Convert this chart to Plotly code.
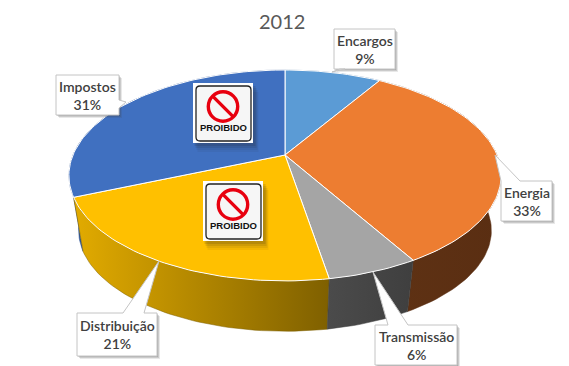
import math
import plotly.graph_objects as go

title = "2012"
categories = ["Encargos", "Energia", "Transmissão", "Distribuição", "Impostos"]
values = [8.7, 32.9, 5.7, 21.4, 31.3]

face_colors = ["#5B9BD5", "#ED7D31", "#A5A5A5", "#FFC000", "#4070C0"]
side_scales = [
    ["#3a6a98", "#3a6a98"],
    ["#5f3214", "#5a2e12"],
    ["#4b4b4b", "#3f3f3f"],
    ["#e2ab00", "#7f6000"],
    ["#2f5597", "#2f5597"],
]
# callout: box (x0, y0, x1, y1), pointer (b0x, b0y, tipx, tipy, b1x, b1y) in page pixels
callouts = [
    ((334, 29, 395, 69), (345, 69, 332, 72, 340, 69)),
    ((501, 181, 552, 221), (501, 181, 495, 155, 520, 181)),
    ((375, 325, 457, 365), (388, 325, 373, 272, 408, 325)),
    ((77, 313, 157, 356), (123, 313, 159, 261, 144, 313)),
    ((56, 75, 119, 115), (119, 100, 126, 102, 119, 108)),
]
signs = [(193, 83), (203, 181)]

# perspective projection of the unit disc
CX, CY, A, B, K = 285, 155, 212, 101.5, -0.194
DEPTH_DY, SHRINK = 56, 0.955


def rim(frac, lower=False):
    t = 2 * math.pi * frac
    u, v = math.sin(t), -math.cos(t)
    w = 1 + K * v
    x, y = A * u / w, B * v / w
    if lower:
        return CX + SHRINK * x, CY + DEPTH_DY + SHRINK * y
    return CX + x, CY + y


def arc(f0, f1, lower=False):
    n = max(3, int((f1 - f0) * 240))
    return [rim(f0 + (f1 - f0) * i / n, lower) for i in range(n + 1)]


total = sum(values)
spans, acc = [], 0
for val in values:
    spans.append((acc / total, (acc + val) / total))
    acc += val

fig = go.Figure()

# side walls, back-most first
order = sorted(range(len(values)), key=lambda i: rim(sum(spans[i]) / 2)[1])
for i in order:
    f0, f1 = spans[i]
    pts = arc(f0, f1) + arc(f0, f1, True)[::-1]
    pts.append(pts[0])
    cs = side_scales[i]
    fig.add_trace(go.Scatter(
        x=[p[0] for p in pts], y=[p[1] for p in pts], mode="lines", fill="toself",
        fillgradient=dict(type="horizontal", colorscale=[[0, cs[0]], [1, cs[1]]]),
        line=dict(width=0.5, color=cs[1]), hoverinfo="skip", showlegend=False))

# top faces
for i, cat in enumerate(categories):
    f0, f1 = spans[i]
    pts = [(CX, CY)] + arc(f0, f1) + [(CX, CY)]
    fig.add_trace(go.Scatter(
        x=[p[0] for p in pts], y=[p[1] for p in pts], mode="lines", fill="toself",
        fillcolor=face_colors[i], line=dict(width=1, color="#ffffff"),
        name=cat, text=f"{cat} {round(values[i])}%", hoverinfo="text", showlegend=False))

shapes, annotations = [], []

# callouts
for i, (box, ptr) in enumerate(callouts):
    x0, y0, x1, y1 = box
    bax, bay, tx, ty, bbx, bby = ptr
    if bay == bby == y0:
        p = f"M{x0},{y0} L{bax},{bay} L{tx},{ty} L{bbx},{bby} L{x1},{y0} L{x1},{y1} L{x0},{y1} Z"
    elif bay == bby == y1:
        p = f"M{x0},{y0} L{x1},{y0} L{x1},{y1} L{bbx},{y1} L{tx},{ty} L{bax},{y1} L{x0},{y1} Z"
    else:
        p = f"M{x0},{y0} L{x1},{y0} L{x1},{bay} L{tx},{ty} L{x1},{bby} L{x1},{y1} L{x0},{y1} Z"
    for d, op in ((3, 0.12), (2, 0.18), (1, 0.2)):
        shapes.append(dict(type="rect", x0=x0 + d, y0=y0 + d, x1=x1 + d, y1=y1 + d,
                           fillcolor="#404040", opacity=op, line_width=0, layer="above"))
    shapes.append(dict(type="path", path=p, fillcolor="white",
                       line=dict(color="#c4c4c4", width=1), layer="above"))
    annotations.append(dict(
        x=(x0 + x1) / 2, y=(y0 + y1) / 2, xref="x", yref="y", showarrow=False,
        text=f"{categories[i]}<br>{round(values[i])}%", align="center",
        font=dict(family="Lato", size=14, color="#404040", weight=600)))


def rrect(x0, y0, x1, y1, r):
    return (f"M{x0+r},{y0} L{x1-r},{y0} Q{x1},{y0} {x1},{y0+r} L{x1},{y1-r} Q{x1},{y1} {x1-r},{y1} "
            f"L{x0+r},{y1} Q{x0},{y1} {x0},{y1-r} L{x0},{y0+r} Q{x0},{y0} {x0+r},{y0} Z")


# prohibition signs
S = 60
for sx, sy in signs:
    for d, op in ((9, 0.06), (7, 0.08), (5, 0.1), (3, 0.14)):
        shapes.append(dict(type="rect", x0=sx + d / 2, y0=sy + d, x1=sx + S + d / 2 + 1, y1=sy + S + d,
                           fillcolor="#222222", opacity=op, line_width=0, layer="above"))
    shapes.append(dict(type="rect", x0=sx, y0=sy, x1=sx + S, y1=sy + S, fillcolor="white",
                       line_width=0, layer="above"))
    shapes.append(dict(type="path", path=rrect(sx + 3, sy + 3, sx + S - 2, sy + S - 2, 4),
                       fillcolor="#f6f6f6", line=dict(color="#222222", width=1.3), layer="above"))
    cx, cy, rad = sx + 30, sy + 23.5, 14.7
    shapes.append(dict(type="circle", x0=cx - rad, y0=cy - rad, x1=cx + rad, y1=cy + rad,
                       fillcolor="rgba(0,0,0,0)", line=dict(color="#e8000f", width=3.4), layer="above"))
    off = rad * 0.707
    shapes.append(dict(type="line", x0=cx - off, y0=cy - off, x1=cx + off, y1=cy + off,
                       line=dict(color="#e8000f", width=3.4), layer="above"))
    annotations.append(dict(x=sx + 30, y=sy + 44, xref="x", yref="y", showarrow=False,
                            text="<b>PROIBIDO</b>",
                            font=dict(family="Liberation Sans", size=9.5, color="#111111")))

annotations.append(dict(x=282, y=21, xref="x", yref="y", showarrow=False, text=title,
                        font=dict(family="Lato", size=20, color="#595959")))

fig.update_layout(
    width=569, height=366, margin=dict(l=0, r=0, t=0, b=0),
    paper_bgcolor="white", plot_bgcolor="white", showlegend=False,
    xaxis=dict(range=[0, 569], visible=False, fixedrange=True),
    yaxis=dict(range=[366, 0], visible=False, fixedrange=True),
    shapes=shapes, annotations=annotations,
)
fig.write_html("out.html", config={"displayModeBar": False},
               post_script="document.body.style.margin='0';document.documentElement.style.overflow='hidden';")
